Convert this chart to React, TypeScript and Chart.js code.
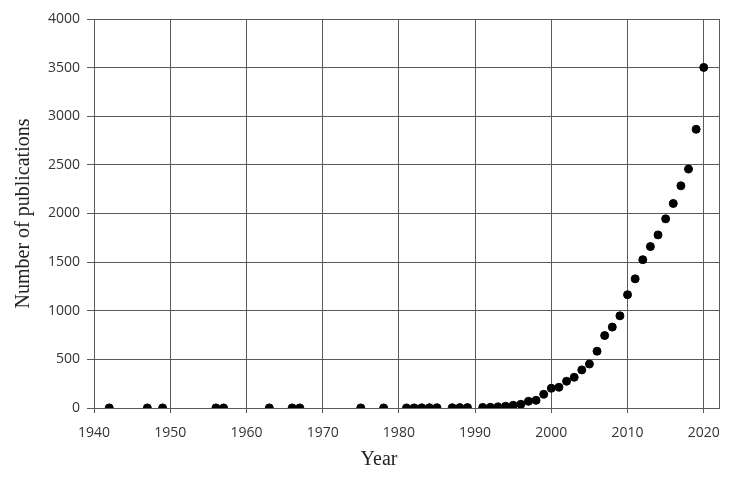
import React, { useEffect, useRef } from "react";
import { Chart, registerables } from "chart.js";

Chart.register(...registerables);

const years = [
  1942, 1947, 1949, 1956, 1957, 1963, 1966, 1967, 1975, 1978,
  1981, 1982, 1983, 1984, 1985, 1987, 1988, 1989,
  1991, 1992, 1993, 1994, 1995, 1996, 1997, 1998, 1999, 2000,
  2001, 2002, 2003, 2004, 2005, 2006, 2007, 2008, 2009, 2010,
  2011, 2012, 2013, 2014, 2015, 2016, 2017, 2018, 2019, 2020,
];
const publications = [
  1, 1, 1, 1, 1, 1, 1, 1, 1, 1,
  1, 1, 2, 3, 3, 3, 4, 4,
  6, 7, 12, 18, 28, 38, 69, 79, 141, 203,
  213, 275, 316, 392, 452, 584, 745, 832, 948, 1165,
  1328, 1525, 1660, 1780, 1945, 2103, 2285, 2457, 2866, 3502,
];
const xTicks = [1940, 1950, 1960, 1970, 1980, 1990, 2000, 2010, 2020];
const xMin = 1940;
const xMax = 2022;
const yMin = 0;
const yMax = 4000;
const yStep = 500;
const xTitle = "Year";
const yTitle = "Number of publications";

const xTitlePlugin = {
  id: "xTitlePlugin",
  afterDraw(chart: any) {
    const ctx = chart.ctx;
    ctx.save();
    ctx.font = "20px 'Liberation Serif'";
    ctx.fillStyle = "#222";
    ctx.textAlign = "center";
    ctx.textBaseline = "middle";
    ctx.fillText(xTitle, chart.width / 2 + 11, 460);
    ctx.restore();
  },
};

export default function App() {
  const ref = useRef<HTMLCanvasElement>(null);
  useEffect(() => {
    document.body.style.margin = "0";
    const ctx = ref.current!;
    const gridColor = "#5a5a5a";
    const chart = new Chart(ctx, {
      type: "scatter",
      data: {
        datasets: [
          {
            data: years.map((y, i) => ({ x: y, y: publications[i] })),
            backgroundColor: "#000",
            borderColor: "#000",
            pointRadius: 4,
            pointHoverRadius: 4,
          },
        ],
      },
      plugins: [xTitlePlugin],
      options: {
        animation: false,
        responsive: false,
        maintainAspectRatio: false,
        layout: { padding: { top: 19, right: 17, left: 0, bottom: 0 } },
        plugins: { legend: { display: false }, tooltip: { enabled: false } },
        scales: {
          x: {
            type: "linear",
            min: xMin,
            max: xMax,
            afterBuildTicks: (scale: any) => {
              scale.ticks = [...xTicks, xMax].map((v) => ({ value: v }));
            },
            afterFit: (scale: any) => {
              scale.height = 72;
            },
            grid: {
              color: gridColor,
              lineWidth: 1,
              tickLength: 5,
              tickColor: (c: any) =>
                c.tick && xTicks.includes(c.tick.value) ? gridColor : "transparent",
            },
            border: { color: gridColor },
            ticks: {
              color: "#333",
              padding: 12,
              maxRotation: 0,
              autoSkip: false,
              font: { family: "'Open Sans'", size: 14 },
              callback: (v: any) => (xTicks.includes(Number(v)) ? String(v) : ""),
            },
            title: { display: false },
          },
          y: {
            min: yMin,
            max: yMax,
            afterFit: (scale: any) => {
              scale.width = 94;
            },
            grid: { color: gridColor, lineWidth: 1, tickLength: 7 },
            border: { color: gridColor },
            ticks: {
              stepSize: yStep,
              color: "#333",
              padding: 7,
              font: { family: "'Open Sans'", size: 14 },
              callback: (v: any) => String(v),
            },
            title: {
              display: true,
              text: yTitle,
              color: "#222",
              font: { family: "'Liberation Serif'", size: 20 },
              padding: { top: 12, bottom: 4 },
            },
          },
        },
      },
    });
    return () => chart.destroy();
  }, []);
  return (
    <div style={{ width: 736, height: 480, background: "#fff" }}>
      <canvas ref={ref} width={736} height={480} />
    </div>
  );
}
